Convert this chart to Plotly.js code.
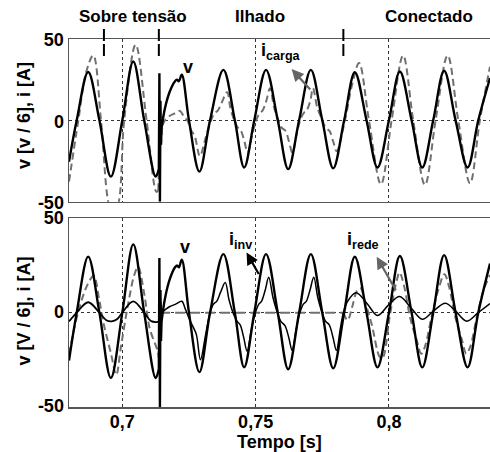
<!DOCTYPE html>
<html><head><meta charset="utf-8">
<script src="https://cdn.plot.ly/plotly-3.0.1.min.js"></script>
<style>html,body{margin:0;padding:0;background:#fff;overflow:hidden}</style>
</head><body><div id="chart" style="width:490px;height:452px"></div>
<script>
// ---------- time axis ticks ----------
const xTickVals = [0.7, 0.75, 0.8];
const xTickLabels = ['0,7', '0,75', '0,8'];
const yTickVals = [-50, 0, 50];
const yTickLabels = ['-50', '0', '50'];

// ---------- v (black, same in both panels) ----------
const tV1 = [0.6800, 0.6829, 0.6872, 0.6914, 0.6957, 0.7000, 0.7041, 0.7082, 0.7125, 0.7137];
const v1  = [-25.4, 0, 29.7, 0, -34.6, 0, 36.2, 0, -34.6, -30];
const tVS = [0.7137, 0.7139, 0.7141, 0.7143, 0.7145, 0.7147];
const vS  = [-30, 29, -50, 12, -15, -5];
const tV2 = [0.7147, 0.7160, 0.7178, 0.7197, 0.7205, 0.7212, 0.7223, 0.7250, 0.7289, 0.7329, 0.7379, 0.7422, 0.7457, 0.7495, 0.7539, 0.7583, 0.7622, 0.7663, 0.7707, 0.7750, 0.7791, 0.7832, 0.7872, 0.7916, 0.7957, 0.8000, 0.8041, 0.8085, 0.8125, 0.8166, 0.8207, 0.8250, 0.8295, 0.8335, 0.8379];
const v2  = [-5, 7.5, 17.7, 23.9, 25, 24, 28, 0, -31.5, 0, 31, 0, -29, 0, 31, 0, -30, 0, 31, 0, -29.5, 0, 29.6, 0, -29, 0, 30, 0, -29, 0, 30.5, 0, -29, 0, 26];

// ---------- i_carga (grey dashed, top) ----------
const tC1 = [0.6800, 0.6835, 0.6865, 0.6891, 0.6920, 0.6947, 0.6966, 0.6987, 0.7007, 0.7050, 0.7091, 0.7128, 0.7135];
const c1  = [-37.6, 0, 30, 39.9, 0, -50, -60, -50, 0, 46.5, 0, -44, -43];
const tCS = [0.7135, 0.7139, 0.7142, 0.7145, 0.7150];
const cS  = [-43, -20, -5, -15, -3];
const tC2 = [0.7150, 0.7160, 0.7180, 0.7200, 0.7216, 0.7232, 0.7244, 0.7258, 0.7272, 0.7291, 0.7312, 0.7333,
             0.7346, 0.7358, 0.7373, 0.7393, 0.7406, 0.7420, 0.7433, 0.7445, 0.7458, 0.7470, 0.7487, 0.7502,
             0.7515, 0.7526, 0.7540, 0.7554, 0.7569, 0.7583, 0.7597, 0.7612, 0.7625, 0.7638, 0.7653, 0.7667,
             0.7680, 0.7691, 0.7705, 0.7715, 0.7731, 0.7748, 0.7762, 0.7777, 0.7791, 0.7804,
             0.7835, 0.7862, 0.7888, 0.7925, 0.7970, 0.8010, 0.8053, 0.8091, 0.8135, 0.8175, 0.8220, 0.8260, 0.8304, 0.8341, 0.8379];
const c2  = [-3, 0, 3, 4.5, 5.8, 2, 0, -6, -10, -22, -11, 0,
             4.5, 6, 11, 17.3, 7, 0, -4.5, -6.5, -13, -20, -9, 0,
             4.5, 6, 12, 19.8, 8, 1, -4.5, -6.5, -13, -20, -9, 0,
             4.5, 6, 12, 19.8, 8, 1, -4.5, -6.5, -13, -19,
             0, 22, 35.2, 0, -39.3, 0, 39.9, 0, -39.7, 0, 39.9, 0, -38.7, 0, 33];

// ---------- i_inv (black thin, bottom) ----------
const tI1 = [0.6800, 0.6829, 0.6872, 0.6914, 0.6940, 0.6960, 0.6980, 0.7000, 0.7041, 0.7082, 0.7108, 0.7128, 0.7137];
const inv1 = [-4.7, 0, 5.5, 0, -4, -4.6, -3.5, 0, 6, 0, -4.5, -5, -4.7];
const tIS = [0.7137, 0.7140, 0.7143, 0.7147];
const invS = [-4.7, -12, 6, 0];
const tI2 = [0.7147, 0.7175, 0.7200, 0.7223, 0.7236, 0.7250, 0.7265, 0.7278, 0.7293, 0.7312, 0.7329,
             0.7342, 0.7354, 0.7369, 0.7386, 0.7400, 0.7417, 0.7430, 0.7442, 0.7455, 0.7468, 0.7484, 0.7499,
             0.7512, 0.7522, 0.7536, 0.7549, 0.7565, 0.7579, 0.7594, 0.7610, 0.7624, 0.7637, 0.7652, 0.7666,
             0.7679, 0.7690, 0.7704, 0.7718, 0.7733, 0.7747, 0.7762, 0.7776, 0.7790, 0.7803, 0.7817, 0.7829,
             0.7845, 0.7877, 0.7917, 0.7957, 0.7998, 0.8040, 0.8083, 0.8125, 0.8168, 0.8212, 0.8252, 0.8292, 0.8335, 0.8379];
const inv2 = [0, 3, 4.5, 6, 2, -3, -7.4, -11.8, -25, -12, 0,
              4.5, 6, 11, 16, 7, -0.7, -4.5, -6.5, -13, -20.5, -9, 0,
              4.5, 6, 12, 18.7, 8, 1, -4.5, -6.9, -13, -20, -9, 0,
              4.5, 6, 12, 18.7, 8, 1, -4.5, -6.5, -13, -20, -9, 0,
              6, 10.5, 5, -1.5, 4, 8.5, 2.5, -3.5, 1, 5, 0.5, -4.5, 0, 4.8];

// ---------- i_rede (grey dashed, bottom) ----------
const tR1 = [0.6800, 0.6834, 0.6870, 0.6893, 0.6912, 0.6928, 0.6958, 0.6977, 0.6996, 0.7021, 0.7045, 0.7059, 0.7083, 0.7102, 0.7133, 0.7137];
const rede1 = [-22, 0, 15, 19.5, 8, -4.7, -22, -33, -17, 4, 20, 24.3, 9.3, -8, -20.6, -24];
const tR2 = [0.7137, 0.7140, 0.7143, 0.7829];
const rede2 = [-24, -8, 0, 0];
const tR3 = [0.7829, 0.7845, 0.7862, 0.7880, 0.7893, 0.7912, 0.7935, 0.7966, 0.7976, 0.8004, 0.8029, 0.8040, 0.8057, 0.8080, 0.8105, 0.8121, 0.8135, 0.8160, 0.8185, 0.8208, 0.8225, 0.8250, 0.8275, 0.8290, 0.8305, 0.8330, 0.8355, 0.8379];
const rede3 = [0, -4, 3, 11.6, 13, 5, -6, -23.6, -24, -1, 17, 21.3, 14, -3, -15, -21.8, -18, -2, 12, 20.4, 14, -3, -15, -21.8, -18, -2, 12, 20];

// ---------- event markers (s) ----------
const eventTimes = [0.6931, 0.7137, 0.7829];

const BLACK = '#000000', GREY = '#707070';
const DASH = '7px,4px';
function tr(x, y, ax, color, width, shape, dash) {
  const t = {x: x, y: y, xaxis: ax === 1 ? 'x' : 'x2', yaxis: ax === 1 ? 'y' : 'y2',
    type: 'scatter', mode: 'lines', hoverinfo: 'skip', showlegend: false,
    line: {color: color, width: width, shape: shape}};
  if (shape === 'spline') t.line.smoothing = 1;
  if (dash) t.line.dash = dash;
  return t;
}
const data = [
  // top panel
  tr(tC1, c1, 1, GREY, 2, 'spline', DASH),
  tr(tCS, cS, 1, GREY, 2, 'linear', DASH),
  tr(tC2, c2, 1, GREY, 2, 'spline', DASH),
  tr(tV1, v1, 1, BLACK, 2.4, 'spline'),
  tr(tVS, vS, 1, BLACK, 2.4, 'linear'),
  tr(tV2, v2, 1, BLACK, 2.4, 'spline'),
  // bottom panel
  tr(tR1, rede1, 2, GREY, 2, 'spline', DASH),
  tr(tR2, rede2, 2, GREY, 2, 'linear', '10px,5px'),
  tr(tR3, rede3, 2, GREY, 2, 'spline', DASH),
  tr(tI1, inv1, 2, BLACK, 1.8, 'spline'),
  tr(tIS, invS, 2, BLACK, 1.8, 'linear'),
  tr(tI2, inv2, 2, BLACK, 1.5, 'spline'),
  tr(tV1, v1, 2, BLACK, 2.4, 'spline'),
  tr(tVS, vS, 2, BLACK, 2.4, 'linear'),
  tr(tV2, v2, 2, BLACK, 2.4, 'spline')
];

const FONT = 'Liberation Sans, Arial, sans-serif';
const tickFont = {family: FONT, size: 18, color: '#000', weight: 700};
const xBase = {range: [0.68, 0.8379], tickvals: xTickVals, ticktext: xTickLabels, ticks: '',
  showgrid: true, gridcolor: '#333', griddash: 'dot', gridwidth: 1, zeroline: false,
  showline: true, mirror: true, linecolor: '#555', linewidth: 1.5, tickfont: tickFont, fixedrange: true};
const yBase = {range: [-50, 50], tickvals: yTickVals, ticktext: yTickLabels, ticks: '',
  showgrid: true, gridcolor: '#333', griddash: 'dot', gridwidth: 1, zeroline: false,
  showline: true, mirror: false, linecolor: '#555', linewidth: 1.5, tickfont: tickFont, fixedrange: true};

const shapes = eventTimes.map(t => ({type: 'line', xref: 'x', yref: 'paper', x0: t, x1: t, y0: 0.954, y1: 1.035,
  line: {color: BLACK, width: 2, dash: '12px,3px'}}));

const lab = (text, x, y, xref, yref, extra) => Object.assign({text: text, x: x, y: y, xref: xref, yref: yref,
  showarrow: false, xanchor: 'center', yanchor: 'middle', font: {family: FONT, size: 17, color: '#000', weight: 700}}, extra || {});
const arrow = (x, y, xref, yref, ax, ay, color) => ({text: '', x: x, y: y, xref: xref, yref: yref, showarrow: true,
  ax: ax, ay: ay, arrowhead: 2, arrowsize: 1.1, arrowwidth: 2.2, arrowcolor: color, standoff: 0, startstandoff: 0});

const annotations = [
  lab('Sobre tensão', 0.152, 1.0625, 'paper', 'paper'),
  lab('Ilhado', 0.4537, 1.0625, 'paper', 'paper'),
  lab('Conectado', 0.855, 1.0625, 'paper', 'paper'),
  lab('v [v / 6], i [A]', -0.108, 0.792, 'paper', 'paper', {textangle: -90, font: {family: FONT, size: 18, color: '#000', weight: 700}}),
  lab('v [V / 6], i [A]', -0.108, 0.261, 'paper', 'paper', {textangle: -90, font: {family: FONT, size: 18, color: '#000', weight: 700}}),
  lab('Tempo [s]', 0.5, -0.096, 'paper', 'paper', {font: {family: FONT, size: 18, color: '#000', weight: 700}}),
  lab('v', 0.7246, 32.9, 'x', 'y', {font: {family: FONT, size: 18, color: '#000', weight: 700}}),
  lab('i<sub>carga</sub>', 0.7595, 42.2, 'x', 'y', {font: {family: FONT, size: 18, color: '#000', weight: 700}}),
  lab('v', 0.7235, 34.7, 'x2', 'y2', {font: {family: FONT, size: 18, color: '#000', weight: 700}}),
  lab('i<sub>inv</sub>', 0.7443, 38.4, 'x2', 'y2', {font: {family: FONT, size: 18, color: '#000', weight: 700}}),
  lab('i<sub>rede</sub>', 0.7904, 38.1, 'x2', 'y2', {font: {family: FONT, size: 18, color: '#000', weight: 700}}),
  arrow(0.7635, 31.5, 'x', 'y', 20, 22, '#666'),
  arrow(0.7466, 31.9, 'x2', 'y2', 13, 23, '#000'),
  arrow(0.7954, 29.6, 'x2', 'y2', 20, 35, '#666')
];

const layout = {
  width: 490, height: 452, paper_bgcolor: '#fff', plot_bgcolor: '#fff',
  margin: {l: 69, r: 0, t: 39, b: 45, pad: 0},
  font: {family: FONT, color: '#000'},
  showlegend: false,
  xaxis: Object.assign({}, xBase, {anchor: 'y', showticklabels: false}),
  yaxis: Object.assign({}, yBase, {domain: [0.5579, 1], anchor: 'x', ticklabelshift: 1}),
  xaxis2: Object.assign({}, xBase, {anchor: 'y2', matches: 'x', ticklabelstandoff: -2}),
  yaxis2: Object.assign({}, yBase, {domain: [0, 0.5128], anchor: 'x2', ticklabelshift: -1}),
  shapes: shapes,
  annotations: annotations
};
Plotly.newPlot('chart', data, layout, {staticPlot: true, displayModeBar: false});
</script></body></html>
